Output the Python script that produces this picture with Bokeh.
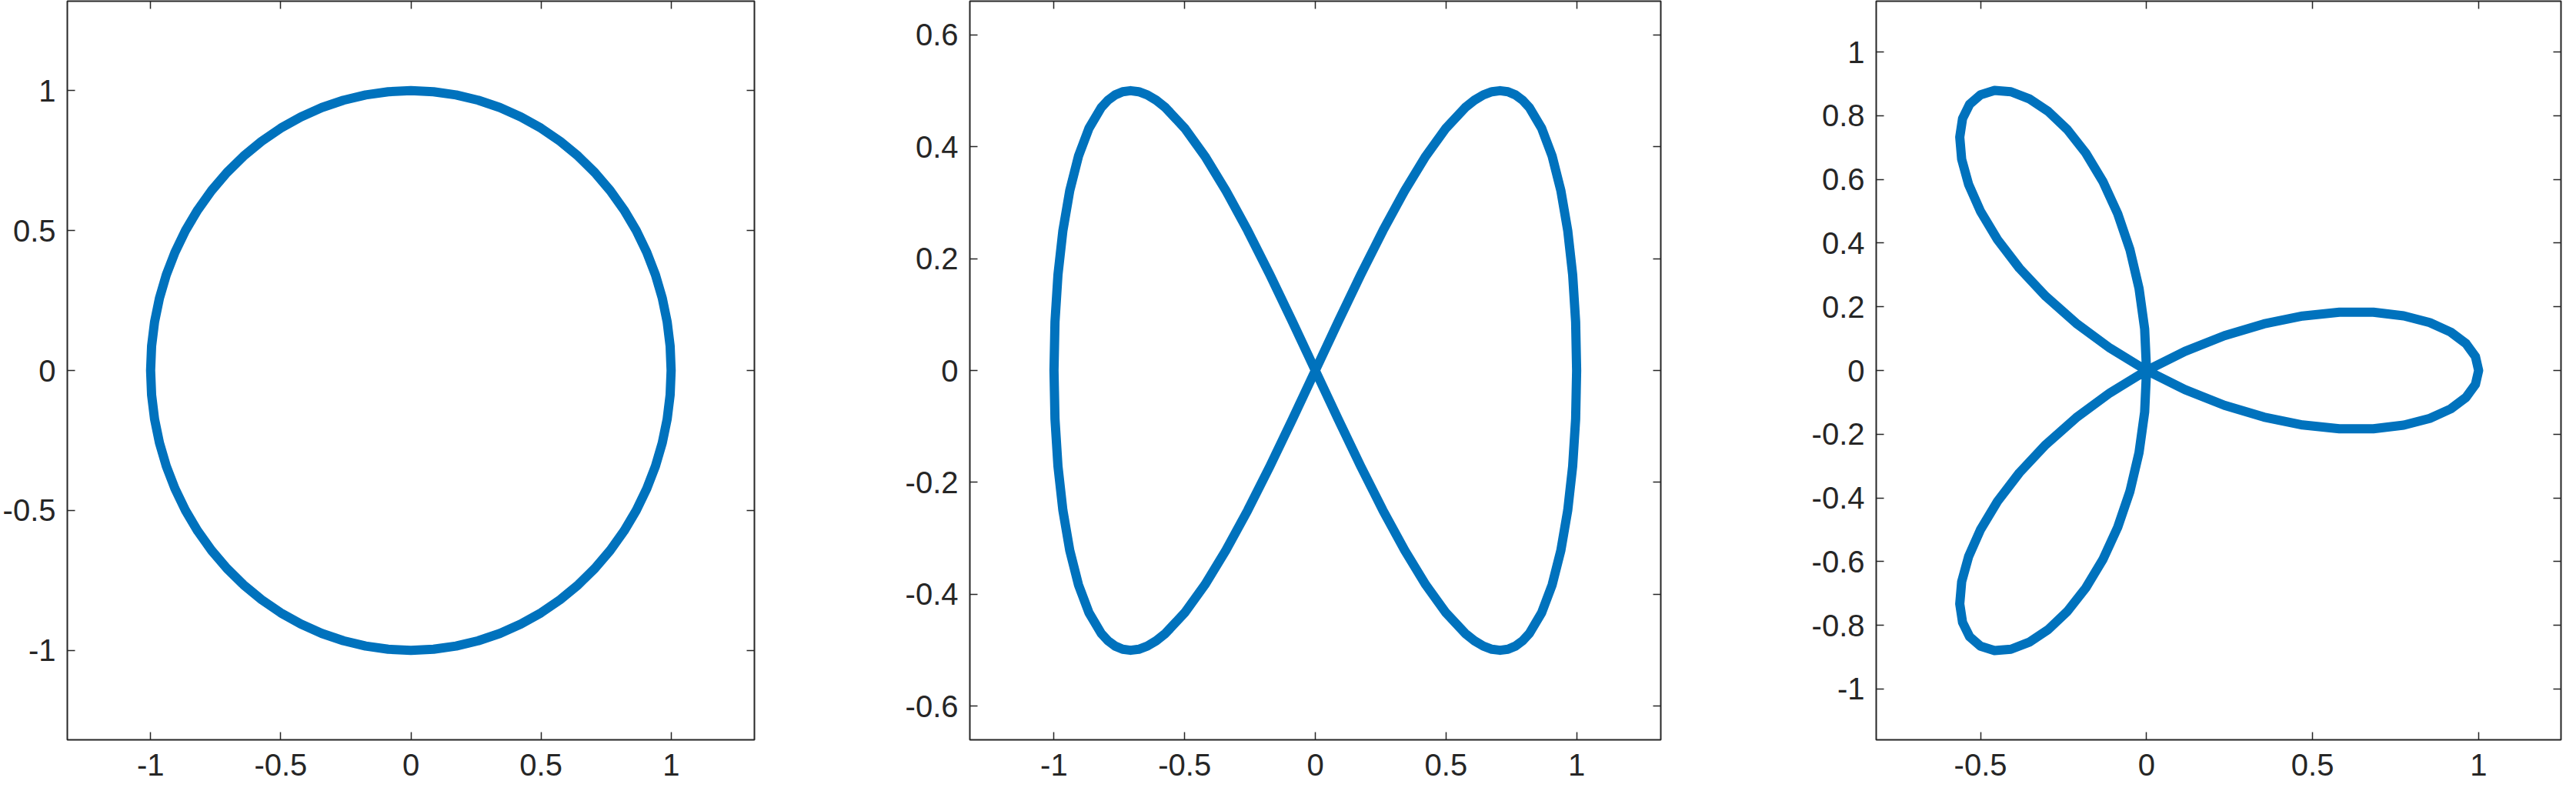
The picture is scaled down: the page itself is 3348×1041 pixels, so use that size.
from bokeh.plotting import figure
from bokeh.layouts import row
from bokeh.models import FixedTicker, LinearAxis, NumeralTickFormatter, Range1d
from bokeh.embed import file_html
from bokeh.resources import INLINE

# ---------------- data ----------------
# panel 1: circle
circle_x = [1, .99619, .98481, .96593, .93969, .90631, .86603, .81915, .76604, .70711, .64279, .57358, .5, .42262, .34202, .25882, .17365, .08716, 0,
            -.08716, -.17365, -.25882, -.34202, -.42262, -.5, -.57358, -.64279, -.70711, -.76604, -.81915, -.86603, -.90631, -.93969, -.96593, -.98481, -.99619, -1,
            -.99619, -.98481, -.96593, -.93969, -.90631, -.86603, -.81915, -.76604, -.70711, -.64279, -.57358, -.5, -.42262, -.34202, -.25882, -.17365, -.08716, 0,
            .08716, .17365, .25882, .34202, .42262, .5, .57358, .64279, .70711, .76604, .81915, .86603, .90631, .93969, .96593, .98481, .99619, 1]
circle_y = [0, .08716, .17365, .25882, .34202, .42262, .5, .57358, .64279, .70711, .76604, .81915, .86603, .90631, .93969, .96593, .98481, .99619, 1,
            .99619, .98481, .96593, .93969, .90631, .86603, .81915, .76604, .70711, .64279, .57358, .5, .42262, .34202, .25882, .17365, .08716, 0,
            -.08716, -.17365, -.25882, -.34202, -.42262, -.5, -.57358, -.64279, -.70711, -.76604, -.81915, -.86603, -.90631, -.93969, -.96593, -.98481, -.99619, -1,
            -.99619, -.98481, -.96593, -.93969, -.90631, -.86603, -.81915, -.76604, -.70711, -.64279, -.57358, -.5, -.42262, -.34202, -.25882, -.17365, -.08716, 0]

# panel 2: figure eight
eight_x = [0, .08716, .17365, .25882, .34202, .42262, .5, .57358, .60876, .64279, .67559, .70711, .73728, .76604, .79335, .81915, .86603, .90631, .93969, .96593, .98481, .99619, 1,
           .99619, .98481, .96593, .93969, .90631, .86603, .81915, .79335, .76604, .73728, .70711, .67559, .64279, .60876, .57358, .5, .42262, .34202, .25882, .17365, .08716, 0,
           -.08716, -.17365, -.25882, -.34202, -.42262, -.5, -.57358, -.60876, -.64279, -.67559, -.70711, -.73728, -.76604, -.79335, -.81915, -.86603, -.90631, -.93969, -.96593, -.98481, -.99619, -1,
           -.99619, -.98481, -.96593, -.93969, -.90631, -.86603, -.81915, -.79335, -.76604, -.73728, -.70711, -.67559, -.64279, -.60876, -.57358, -.5, -.42262, -.34202, -.25882, -.17365, -.08716, 0]
eight_y = [0, .08682, .17101, .25, .32139, .38302, .43301, .46985, .48296, .4924, .4981, .5, .4981, .4924, .48296, .46985, .43301, .38302, .32139, .25, .17101, .08682, 0,
           -.08682, -.17101, -.25, -.32139, -.38302, -.43301, -.46985, -.48296, -.4924, -.4981, -.5, -.4981, -.4924, -.48296, -.46985, -.43301, -.38302, -.32139, -.25, -.17101, -.08682, 0,
           .08682, .17101, .25, .32139, .38302, .43301, .46985, .48296, .4924, .4981, .5, .4981, .4924, .48296, .46985, .43301, .38302, .32139, .25, .17101, .08682, 0,
           -.08682, -.17101, -.25, -.32139, -.38302, -.43301, -.46985, -.48296, -.4924, -.4981, -.5, -.4981, -.4924, -.48296, -.46985, -.43301, -.38302, -.32139, -.25, -.17101, -.08682, 0]

# panel 3: three-petal rose, one list per petal
petal_right_x = [0, .11578, .23457, .35355, .46985, .58059, .68301, .77455, .85288, .91597, .96225, .9905, 1,
                 .9905, .96225, .91597, .85288, .77455, .68301, .58059, .46985, .35355, .23457, .11578, 0]
petal_right_y = [0, -.06027, -.10938, -.14645, -.17101, -.18306, -.18301, -.17171, -.15039, -.12059, -.08419, -.04325, 0,
                 .04325, .08419, .12059, .15039, .17171, .18301, .18306, .17101, .14645, .10938, .06027, 0]
petal_upper_x = [0, -.00569, -.02257, -.04995, -.08683, -.13176, -.18301, -.23857, -.2962, -.35356, -.40822, -.45779, -.5,
                 -.53271, -.55404, -.56242, -.55668, -.53599, -.5, -.44884, -.38303, -.30361, -.21201, -.11009, 0]
petal_upper_y = [0, .13041, .25784, .37942, .49241, .59434, .68302, .75664, .81382, .85356, .87544, .87943, .86603,
                 .83617, .79124, .73296, .66342, .58492, .5, .41128, .32139, .23296, .14846, .07013, 0]
petal_lower_x = [0, -.00569, -.02257, -.04995, -.08683, -.13176, -.18301, -.23857, -.2962, -.35356, -.40822, -.45779, -.5,
                 -.53271, -.55404, -.56242, -.55668, -.53599, -.5, -.44884, -.38303, -.30361, -.21201, -.11009, 0]
petal_lower_y = [0, -.13041, -.25784, -.37942, -.49241, -.59434, -.68302, -.75664, -.81382, -.85356, -.87544, -.87943, -.86603,
                 -.83617, -.79124, -.73296, -.66342, -.58492, -.5, -.41128, -.32139, -.23296, -.14846, -.07013, 0]

# axis limits
p1_xlim = [-1.32, 1.32]
p1_ylim = [-1.32, 1.32]
p2_xlim = [-1.322, 1.322]
p2_ylim = [-0.66, 0.66]
p3_xlim = [-0.814, 1.248]
p3_ylim = [-1.16, 1.16]

# ticks and tick labels
p1_xticks = [-1, -0.5, 0, 0.5, 1]
p1_xlabels = ["-1", "-0.5", "0", "0.5", "1"]
p1_yticks = [-1, -0.5, 0, 0.5, 1]
p1_ylabels = ["-1", "-0.5", "0", "0.5", "1"]
p2_xticks = [-1, -0.5, 0, 0.5, 1]
p2_xlabels = ["-1", "-0.5", "0", "0.5", "1"]
p2_yticks = [-0.6, -0.4, -0.2, 0, 0.2, 0.4, 0.6]
p2_ylabels = ["-0.6", "-0.4", "-0.2", "0", "0.2", "0.4", "0.6"]
p3_xticks = [-0.5, 0, 0.5, 1]
p3_xlabels = ["-0.5", "0", "0.5", "1"]
p3_yticks = [-1, -0.8, -0.6, -0.4, -0.2, 0, 0.2, 0.4, 0.6, 0.8, 1]
p3_ylabels = ["-1", "-0.8", "-0.6", "-0.4", "-0.2", "0", "0.2", "0.4", "0.6", "0.8", "1"]

# ---------------- styling ----------------
LINE_COLOR = "#0072BD"
AX_COLOR = "#262626"
FONT = "Liberation Sans"
FONT_SIZE = "40px"
H = 1024
TOP = 1
BOTTOM = 63
RIGHT = 2


def style_main_axis(ax, ticks, labels, standoff):
    ax.ticker = FixedTicker(ticks=ticks)
    ax.formatter = NumeralTickFormatter(format="0.[0]")
    ax.major_label_overrides = dict(zip(ticks, labels))
    ax.major_tick_in = 10
    ax.major_tick_out = 0
    ax.major_tick_line_color = AX_COLOR
    ax.major_tick_line_width = 1.5
    ax.minor_tick_line_color = None
    ax.axis_line_color = None
    ax.major_label_text_font = FONT
    ax.major_label_text_font_size = FONT_SIZE
    ax.major_label_text_color = AX_COLOR
    ax.major_label_text_font_style = "normal"
    ax.major_label_standoff = standoff


def mirror_axis(ticks):
    ax = LinearAxis(ticker=FixedTicker(ticks=ticks))
    ax.major_tick_in = 10
    ax.major_tick_out = 0
    ax.major_tick_line_color = AX_COLOR
    ax.major_tick_line_width = 1.5
    ax.minor_tick_line_color = None
    ax.axis_line_color = None
    ax.major_label_text_color = None
    ax.major_label_text_font_size = "1px"
    ax.major_label_standoff = 0
    return ax


def panel(xs, ys, xlim, ylim, xt, xl, yt, yl, left, frame_w):
    p = figure(width=left + frame_w + RIGHT, height=H,
               x_range=Range1d(start=xlim[0], end=xlim[1]),
               y_range=Range1d(start=ylim[0], end=ylim[1]),
               output_backend="svg", toolbar_location=None, tools="",
               min_border_left=left, min_border_right=RIGHT,
               min_border_top=TOP, min_border_bottom=BOTTOM)
    p.grid.visible = False
    p.outline_line_color = AX_COLOR
    p.outline_line_width = 2
    p.background_fill_color = "white"
    p.border_fill_color = "white"
    style_main_axis(p.xaxis[0], xt, xl, 18)
    style_main_axis(p.yaxis[0], yt, yl, 15)
    p.add_layout(mirror_axis(xt), "above")
    p.add_layout(mirror_axis(yt), "right")
    p.multi_line(xs=xs, ys=ys, line_color=LINE_COLOR, line_width=12,
                 line_join="round", line_cap="round")
    return p


p1 = panel([circle_x], [circle_y], p1_xlim, p1_ylim,
           p1_xticks, p1_xlabels, p1_yticks, p1_ylabels, 84, 896)
p2 = panel([eight_x], [eight_y], p2_xlim, p2_ylim,
           p2_xticks, p2_xlabels, p2_yticks, p2_ylabels, 278, 898)
p3 = panel([petal_right_x, petal_upper_x, petal_lower_x],
           [petal_right_y, petal_upper_y, petal_lower_y], p3_xlim, p3_ylim,
           p3_xticks, p3_xlabels, p3_yticks, p3_ylabels, 278, 890)

layout = row(p1, p2, p3, spacing=0)
open("out.html", "w").write(file_html(layout, INLINE))
